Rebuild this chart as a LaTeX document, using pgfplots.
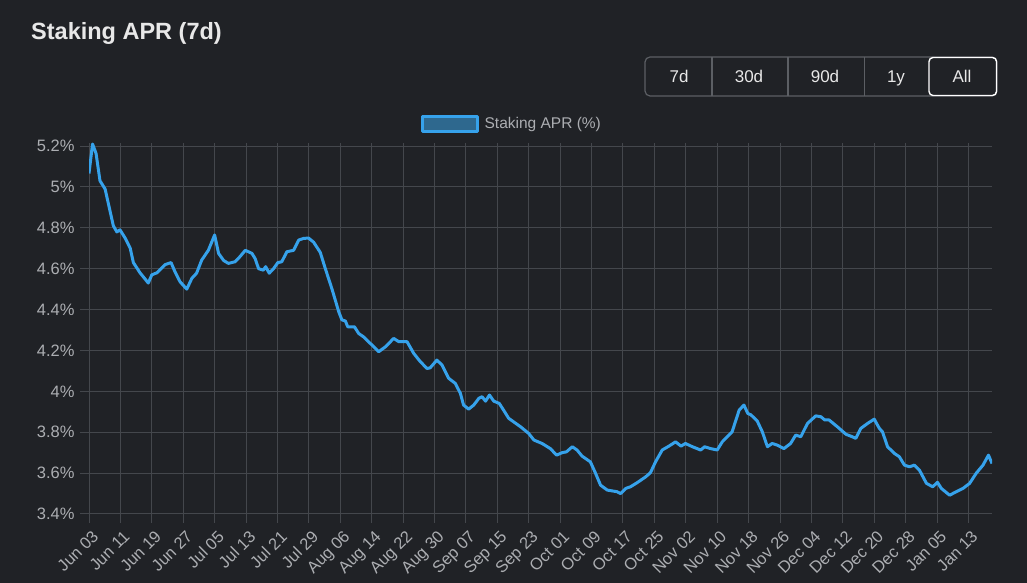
\documentclass[border=0pt]{standalone}
\usepackage{pgfplots}
\pgfplotsset{compat=1.18}
\usepackage{fontspec}
\setmainfont{Liberation Sans}
\definecolor{bg}{RGB}{32,34,38}
\definecolor{gridc}{RGB}{68,71,76}
\definecolor{labelc}{RGB}{172,174,178}
\definecolor{titlec}{RGB}{232,232,232}
\definecolor{btnborder}{RGB}{92,95,100}
\definecolor{aprblue}{RGB}{54,162,235}
\definecolor{aprfill}{RGB}{46,104,142}

\begin{document}
\begin{tikzpicture}
\path[use as bounding box, fill=bg] (0pt,0pt) rectangle (1027pt,583pt);

% title
\node[anchor=base west, inner sep=0pt, text=titlec, font=\fontsize{23.5}{28}\selectfont\bfseries]
  at (31pt,543pt) {Staking APR (7d)};

% range buttons
\draw[btnborder, line width=1.2pt, rounded corners=5pt] (645pt,487pt) rectangle (997pt,526pt);
\draw[btnborder, line width=1.2pt] (712pt,487pt) -- (712pt,526pt)
  (788pt,487pt) -- (788pt,526pt) (864.5pt,487pt) -- (864.5pt,526pt);
\draw[white, line width=1.4pt, rounded corners=4pt] (929pt,487.5pt) rectangle (996.5pt,525.5pt);
\begin{scope}[every node/.style={text=titlec, font=\fontsize{17}{20}\selectfont, inner sep=0pt, anchor=base}]
  \node at (679pt,500pt) {7d};
  \node at (749pt,500pt) {30d};
  \node at (825pt,500pt) {90d};
  \node at (896pt,500pt) {1y};
  \node at (962pt,500pt) {All};
\end{scope}

\begin{axis}[
    at={(89pt,69pt)}, anchor=south west,
    width=903pt, height=371pt, scale only axis,
    xmin=0, xmax=230,
    ymin=3.4, ymax=5.215,
    axis line style={draw=none},
    grid=major,
    major grid style={draw=gridc, line width=1pt},
    tick style={draw=gridc, line width=1pt},
    tick align=outside,
    major tick length=9pt,
    xtick pos=bottom, ytick pos=left,
    xtick={0,8,...,224},
    xticklabels={Jun 03,Jun 11,Jun 19,Jun 27,Jul 05,Jul 13,Jul 21,Jul 29,Aug 06,Aug 14,Aug 22,Aug 30,Sep 07,Sep 15,Sep 23,Oct 01,Oct 09,Oct 17,Oct 25,Nov 02,Nov 10,Nov 18,Nov 26,Dec 04,Dec 12,Dec 20,Dec 28,Jan 05,Jan 13},
    ytick={3.4,3.6,3.8,4,4.2,4.4,4.6,4.8,5,5.2},
    yticklabels={3.4\%,3.6\%,3.8\%,4\%,4.2\%,4.4\%,4.6\%,4.8\%,5\%,5.2\%},
    ticklabel style={text=labelc, font=\fontsize{16.5}{19}\selectfont},
    yticklabel style={xshift=-2pt},
    xticklabel style={rotate=45, anchor=north east, inner sep=2pt, xshift=-1pt, yshift=-4pt},
    legend style={at={(0.3677,1.052)}, anchor=west, draw=none, fill=none,
      text=labelc, font=\fontsize{15.5}{18}\selectfont, inner sep=0pt},
    legend image code/.code={%
      \draw[draw=aprblue, fill=aprfill, line width=2.8pt] (0pt,-7.5pt) rectangle (55pt,7.5pt);
      \path[draw=none, fill=none] (0pt,0pt) -- (60pt,0pt);},
  ]
  \addplot[aprblue, line width=3pt, line join=round] coordinates {
    (0,5.066) (0.9,5.21) (1.8,5.164) (2.8,5.03) (4.1,4.99) (6.2,4.81) (7.1,4.78)
    (7.9,4.79) (9.2,4.75) (10.5,4.70) (11.3,4.63) (13.0,4.58) (15.1,4.53) (16.0,4.57)
    (17.3,4.58) (19.4,4.62) (20.9,4.63) (21.9,4.585) (23.2,4.536) (24.9,4.50)
    (26.2,4.553) (27.4,4.578) (28.7,4.642) (30.4,4.69) (32.0,4.765) (33.0,4.675)
    (34.3,4.64) (35.5,4.626) (37.2,4.634) (38.5,4.66) (39.8,4.69) (41.5,4.675)
    (42.3,4.65) (43.2,4.60) (44.4,4.593) (45.0,4.61) (45.9,4.578) (47.0,4.60)
    (48.1,4.63) (49.1,4.634) (50.4,4.683) (52.1,4.69) (53.4,4.74) (54.6,4.748)
    (55.9,4.75) (57.2,4.73) (58.9,4.68) (60.2,4.60) (61.9,4.50) (63.6,4.39)
    (64.4,4.35) (65.3,4.344) (65.9,4.316) (67.6,4.316) (68.7,4.283) (69.9,4.267)
    (72.1,4.226) (73.8,4.194) (75.5,4.218) (77.6,4.259) (78.9,4.243) (81.0,4.243)
    (82.7,4.186) (84.4,4.145) (86.1,4.112) (86.9,4.115) (88.6,4.153) (89.9,4.129)
    (91.6,4.064) (93.3,4.039) (94.6,3.99) (95.4,3.933) (96.7,3.913) (98.0,3.933)
    (99.3,3.966) (100.1,3.974) (101.0,3.952) (102.0,3.982) (103.1,3.952)
    (104.5,3.941) (105.6,3.908) (106.9,3.868) (109.9,3.827) (112.0,3.794)
    (113.3,3.762) (115.4,3.745) (117.5,3.72) (119.1,3.688) (120.5,3.70)
    (121.6,3.704) (123.1,3.729) (124.3,3.713) (125.6,3.683) (127.7,3.655)
    (129.0,3.60) (130.3,3.541) (132.0,3.517) (134.5,3.509) (135.4,3.50)
    (136.7,3.525) (137.9,3.533) (139.6,3.553) (141.8,3.582) (143.0,3.602)
    (144.3,3.655) (146.0,3.713) (147.7,3.732) (149.4,3.753) (150.8,3.732)
    (151.9,3.745) (153.7,3.729) (155.8,3.713) (156.8,3.729) (158.3,3.72)
    (160.0,3.713) (161.3,3.753) (163.8,3.802) (165.6,3.908) (166.8,3.933)
    (167.8,3.892) (168.6,3.885) (170.2,3.855) (171.5,3.802) (172.8,3.729)
    (174.0,3.745) (175.3,3.737) (177.0,3.72) (178.7,3.745) (180.0,3.786)
    (181.3,3.778) (183.0,3.843) (185.1,3.88) (186.4,3.876) (187.4,3.86)
    (188.5,3.86) (190.6,3.827) (192.8,3.79) (194.4,3.778) (195.3,3.77)
    (196.6,3.819) (198.3,3.843) (200.0,3.864) (201.3,3.819) (202.1,3.802)
    (203.4,3.729) (205.1,3.697) (206.4,3.68) (207.7,3.639) (209.0,3.631)
    (210.2,3.639) (211.5,3.615) (213.3,3.55) (214.9,3.533) (216.1,3.555)
    (217.1,3.525) (219.2,3.492) (220.9,3.509) (222.6,3.525) (224.3,3.55)
    (226.0,3.60) (227.7,3.639) (229.1,3.688) (230.0,3.647)
  };
  \addlegendentry{Staking APR (\%)}
\end{axis}
\end{tikzpicture}
\end{document}
